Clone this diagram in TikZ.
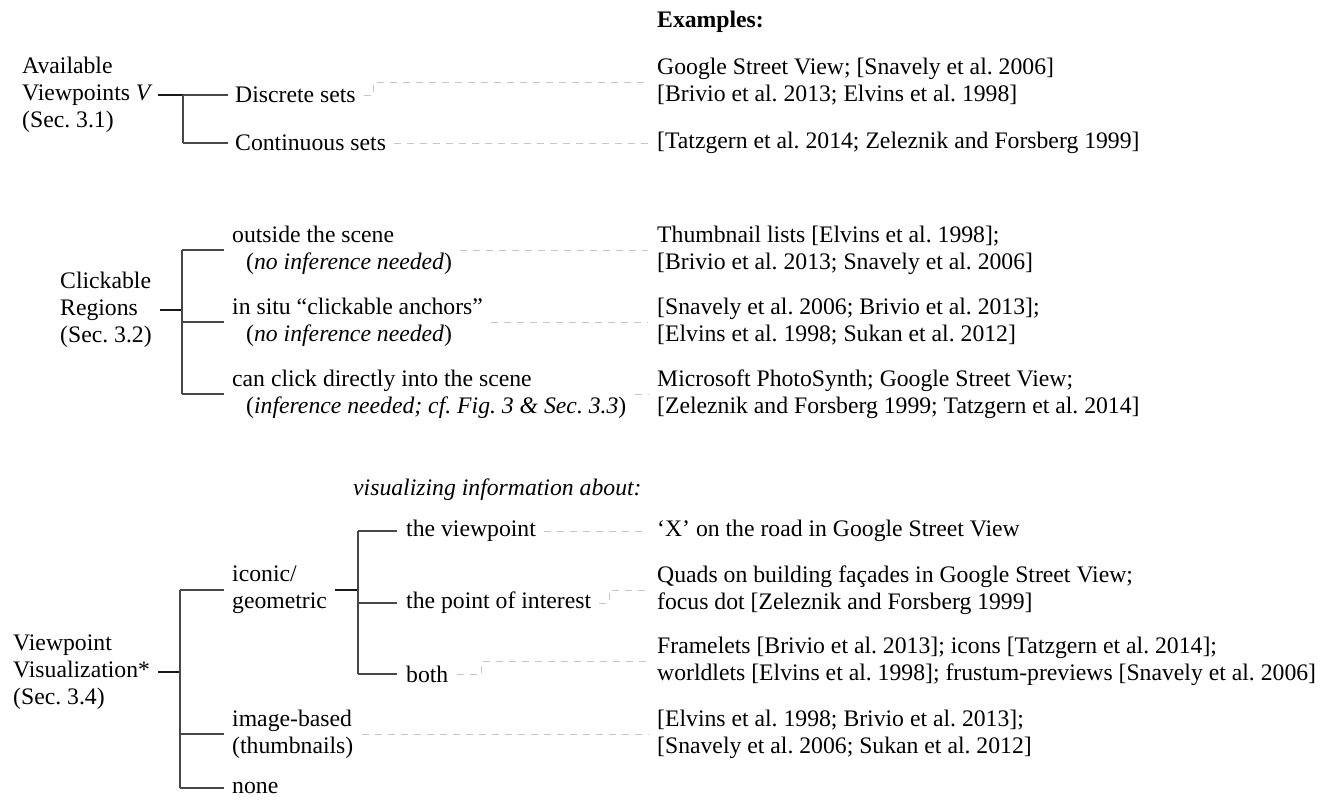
\documentclass[tikz,border=0pt]{standalone}
\usepackage{fontspec}
\setmainfont{Liberation Serif}
\frenchspacing
\begin{document}
\frenchspacing
\begin{tikzpicture}[x=1pt,y=-1pt,
  txt/.style={anchor=west,inner sep=0pt,align=left,font=\fontsize{23.7}{27}\selectfont},
  tree/.style={draw=black!72,line width=1.2pt},
  rootln/.style={draw=black!90,line width=1.3pt},
  dashln/.style={draw=black!22,line width=1pt,dash pattern=on 7pt off 6pt}]
\useasboundingbox (0,0) rectangle (1331,801);

% header
\node[txt,font=\fontsize{23.7}{27}\selectfont\bfseries] (hdr) at (657,22) {Examples:};

% ---------- section 1
\node[txt] (r1) at (22,95) {Available\\Viewpoints \textit{V}\\(Sec. 3.1)};
\node[txt] (c11) at (235,95) {Discrete sets};
\node[txt] (c12) at (235,143) {Continuous sets};
\coordinate (v1) at (183,95);
\node[txt] (e11) at (657,82) {Google Street View; [Snavely et al. 2006]\\{}[Brivio et al. 2013; Elvins et al. 1998]};
\node[txt] (e12) at (657,143) {[Tatzgern et al. 2014; Zeleznik and Forsberg 1999]};

\draw[rootln] ([xshift=5pt]r1.east) -- (v1 |- r1.east);
\draw[tree] (v1 |- c11) -- (v1 |- c12);
\draw[tree] (v1 |- c11) -- ([xshift=-7pt]c11.west);
\draw[tree] (v1 |- c12) -- ([xshift=-7pt]c12.west);
\draw[dashln] ([xshift=8pt]c11.east) -- ++(10,0) |- ([xshift=-9pt]e11.west);
\draw[dashln] ([xshift=8pt]c12.east) -- ([xshift=-9pt]e12.west);

% ---------- section 2
\node[txt] (r2) at (60,310) {Clickable\\Regions\\(Sec. 3.2)};
\coordinate (v2) at (182,310);
\node[txt] (c21) at (232,250) {outside the scene\\\hspace*{14pt}(\textit{no inference needed})};
\node[txt] (c22) at (232,322) {in situ “clickable anchors”\\\hspace*{14pt}(\textit{no inference needed})};
\node[txt] (c23) at (232,394) {can click directly into the scene\\\hspace*{14pt}(\textit{inference needed; cf. Fig. 3 \& Sec. 3.3})};
\node[txt] (e21) at (657,250) {Thumbnail lists [Elvins et al. 1998];\\{}[Brivio et al. 2013; Snavely et al. 2006]};
\node[txt] (e22) at (657,322) {[Snavely et al. 2006; Brivio et al. 2013];\\{}[Elvins et al. 1998; Sukan et al. 2012]};
\node[txt] (e23) at (657,394) {Microsoft PhotoSynth; Google Street View;\\{}[Zeleznik and Forsberg 1999; Tatzgern et al. 2014]};

\draw[rootln] ([xshift=8pt]r2.east) -- (v2);
\draw[tree] (v2 |- c21) -- (v2 |- c23);
\draw[tree] (v2 |- c21) -- ([xshift=-8pt]c21.west);
\draw[tree] (v2 |- c22) -- ([xshift=-8pt]c22.west);
\draw[tree] (v2 |- c23) -- ([xshift=-8pt]c23.west);
\draw[dashln] ([xshift=8pt]c21.east) -- ([xshift=-9pt]e21.west);
\draw[dashln] ([xshift=8pt]c22.east) -- ([xshift=-9pt]e22.west);
\draw[dashln] ([xshift=8pt]c23.east) -- ([xshift=-9pt]e23.west);

% ---------- section 3
\node[txt,font=\fontsize{23.7}{27}\selectfont\itshape] (vis) at (353,490) {visualizing information about:};
\node[txt] (r3) at (13,672) {Viewpoint\\Visualization*\\(Sec. 3.4)};
\coordinate (v3) at (180,672);
\node[txt] (c31) at (232,590) {iconic/\\geometric};
\node[txt] (c32) at (232,734) {image-based\\(thumbnails)};
\node[txt] (c33) at (232,788) {none};
\coordinate (v4) at (358,590);
\node[txt] (d1) at (406,531) {the viewpoint};
\node[txt] (d2) at (406,603) {the point of interest};
\node[txt] (d3) at (406,674) {both};
\node[txt] (e31) at (657,531) {‘X’ on the road in Google Street View};
\node[txt] (e32) at (657,590) {Quads on building façades in Google Street View;\\focus dot [Zeleznik and Forsberg 1999]};
\node[txt] (e33) at (657,661) {Framelets [Brivio et al. 2013]; icons [Tatzgern et al. 2014];\\worldlets [Elvins et al. 1998]; frustum-previews [Snavely et al. 2006]};
\node[txt] (e34) at (657,734) {[Elvins et al. 1998; Brivio et al. 2013];\\{}[Snavely et al. 2006; Sukan et al. 2012]};

\draw[rootln] ([xshift=8pt]r3.east) -- (v3);
\draw[tree] (v3 |- c31) -- (v3 |- c33);
\draw[tree] (v3 |- c31) -- ([xshift=-8pt]c31.west);
\draw[tree] (v3 |- c32) -- ([xshift=-8pt]c32.west);
\draw[tree] (v3 |- c33) -- ([xshift=-8pt]c33.west);
\draw[rootln] ([xshift=8pt]c31.east) -- (v4);
\draw[tree] (v4 |- d1) -- (v4 |- d3);
\draw[tree] (v4 |- d1) -- ([xshift=-9pt]d1.west);
\draw[tree] (v4 |- d2) -- ([xshift=-9pt]d2.west);
\draw[tree] (v4 |- d3) -- ([xshift=-9pt]d3.west);
\draw[dashln] ([xshift=8pt]d1.east) -- ([xshift=-9pt]e31.west);
\draw[dashln] ([xshift=8pt]d2.east) -- ++(10,0) |- ([xshift=-9pt]e32.west);
\draw[dashln] ([xshift=8pt]d3.east) -- ++(25,0) |- ([xshift=-9pt]e33.west);
\draw[dashln] ([xshift=8pt]c32.east) -- ([xshift=-9pt]e34.west);
\end{tikzpicture}
\end{document}
